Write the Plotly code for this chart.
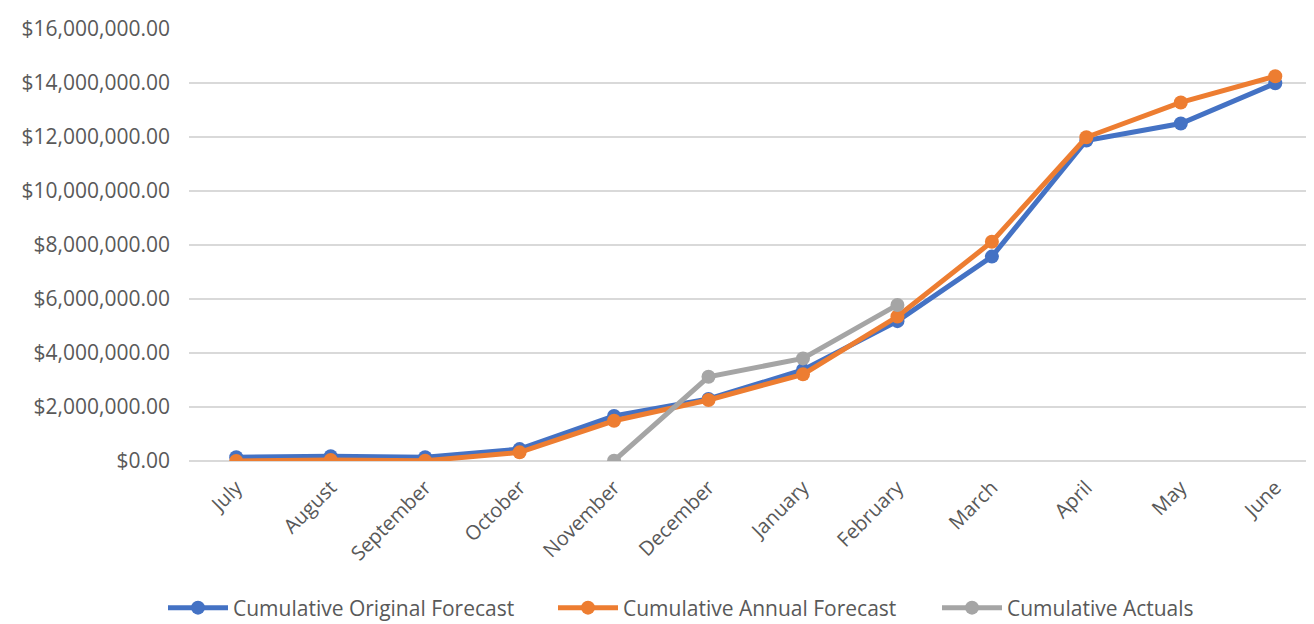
import plotly.graph_objects as go

months = ["July", "August", "September", "October", "November", "December",
          "January", "February", "March", "April", "May", "June"]
original_forecast = [140000, 180000, 140000, 440000, 1670000, 2300000,
                     3370000, 5180000, 7570000, 11870000, 12500000, 13990000]
annual_forecast = [0, 40000, 10000, 320000, 1490000, 2260000,
                   3210000, 5350000, 8120000, 11990000, 13280000, 14250000]
actual_months = ["November", "December", "January", "February"]
actuals = [10000, 3120000, 3800000, 5780000]

y_ticks = [0, 2000000, 4000000, 6000000, 8000000, 10000000, 12000000, 14000000, 16000000]

font_family = "Open Sans, sans-serif"
W, H = 1306, 616
fig = go.Figure()
series = [
    ("Cumulative Original Forecast", months, original_forecast, "#4472C4", "legend", 155),
    ("Cumulative Annual Forecast", months, annual_forecast, "#ED7D31", "legend2", 545),
    ("Cumulative Actuals", actual_months, actuals, "#A5A5A5", "legend3", 929),
]
legend_layouts = {}
for name, xs, ys, color, leg, lx in series:
    fig.add_trace(go.Scatter(
        x=xs, y=ys, name=name, mode="lines+markers",
        line=dict(color=color, width=5),
        marker=dict(color=color, size=14),
        legend=leg,
    ))
    legend_layouts[leg] = dict(
        orientation="h", xref="container", yref="container",
        x=lx / W, xanchor="left", y=(H - 600) / H, yanchor="middle",
        font=dict(size=21, color="#595959"), itemwidth=60,
        bgcolor="rgba(0,0,0,0)", tracegroupgap=0,
    )

fig.update_layout(
    width=W, height=H,
    margin=dict(l=181, r=0, t=21, b=163),
    paper_bgcolor="white", plot_bgcolor="white",
    font=dict(family=font_family, size=20, color="#595959"),
    showlegend=True,
    xaxis=dict(type="category", categoryorder="array", categoryarray=months,
               range=[-0.5, 11.41], tickangle=-45, showgrid=False,
               showline=False, ticks="", tickfont=dict(size=20), automargin=False,
               ticklabelstandoff=10),
    yaxis=dict(range=[0, 16000000], tickvals=y_ticks,
               tickformat="$,.2f", showgrid=True, gridcolor="#D9D9D9",
               gridwidth=2, zeroline=True, zerolinecolor="#D9D9D9",
               zerolinewidth=2, tickfont=dict(size=21), ticklabelstandoff=18,
               automargin=False),
    **legend_layouts,
)

fig.write_html("out.html")
